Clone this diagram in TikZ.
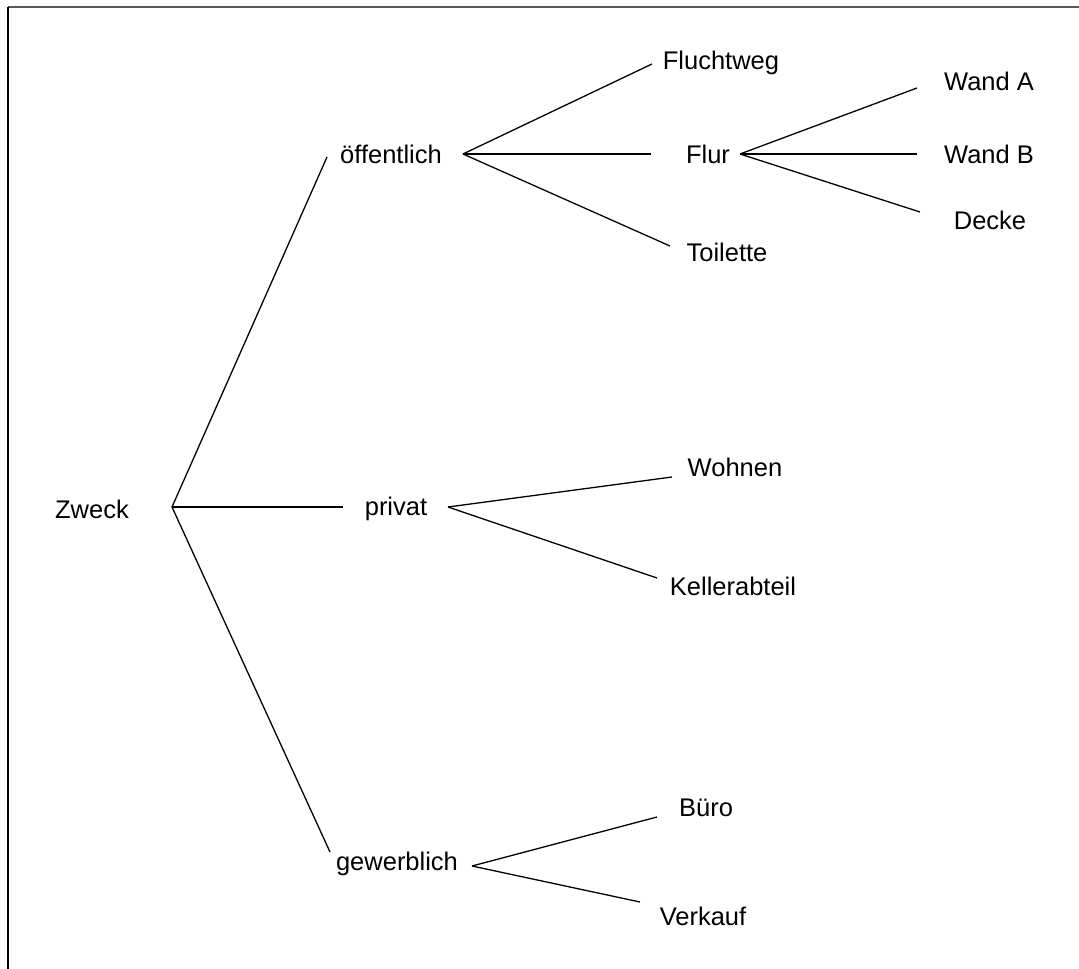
\documentclass[tikz,border=0pt]{standalone}
\usepackage{fontspec}
\setmainfont{Liberation Sans}
\begin{document}
\begin{tikzpicture}[x=1pt,y=-1pt,
  lbl/.style={inner sep=0pt,font=\fontsize{25.5}{30}\selectfont},
  edge/.style={line width=1.3pt,black}]
\useasboundingbox (0,0) rectangle (1079,969);
% frame (top and left only)
\draw[line width=2.2pt,gray!70!black] (8,7) -- (1079,7);
\draw[line width=2.2pt,black] (8,7) -- (8,969);

% labels
\node[lbl] (zweck) at (92,509) {Zweck};
\node[lbl] (oeff) at (391,154) {öffentlich};
\node[lbl] (privat) at (396,509) {privat};
\node[lbl] (gew) at (397,864) {gewerblich};
\node[lbl] (flucht) at (721,63) {Fluchtweg};
\node[lbl] (flur) at (708,154) {Flur};
\node[lbl] (toil) at (727,252) {Toilette};
\node[lbl] (wanda) at (989,81) {Wand A};
\node[lbl] (wandb) at (989,154) {Wand B};
\node[lbl] (decke) at (990,220) {Decke};
\node[lbl] (wohnen) at (735,467) {Wohnen};
\node[lbl] (keller) at (733,586) {Kellerabteil};
\node[lbl] (buero) at (706,808) {Büro};
\node[lbl] (verk) at (703,916) {Verkauf};

% branch points
\coordinate (zweck-o) at (172,507);
\coordinate (oeff-i) at (327,157);
\coordinate (oeff-o) at (463,154);
\coordinate (privat-i) at (343,507);
\coordinate (privat-o) at (448,507);
\coordinate (gew-i) at (330,852);
\coordinate (gew-o) at (472,866);
\coordinate (flucht-i) at (652,64);
\coordinate (flur-i) at (651,154);
\coordinate (flur-o) at (740,154);
\coordinate (toil-i) at (670,246);
\coordinate (wanda-i) at (917,88);
\coordinate (wandb-i) at (917,154);
\coordinate (decke-i) at (920,212);
\coordinate (wohnen-i) at (672,477);
\coordinate (keller-i) at (657,578);
\coordinate (buero-i) at (657,817);
\coordinate (verk-i) at (640,902);

% connectors
\draw[edge] (zweck-o) -- (oeff-i);
\draw[edge] (zweck-o) -- (privat-i);
\draw[edge] (zweck-o) -- (gew-i);
\draw[edge] (oeff-o) -- (flucht-i);
\draw[edge] (oeff-o) -- (flur-i);
\draw[edge] (oeff-o) -- (toil-i);
\draw[edge] (flur-o) -- (wanda-i);
\draw[edge] (flur-o) -- (wandb-i);
\draw[edge] (flur-o) -- (decke-i);
\draw[edge] (privat-o) -- (wohnen-i);
\draw[edge] (privat-o) -- (keller-i);
\draw[edge] (gew-o) -- (buero-i);
\draw[edge] (gew-o) -- (verk-i);
\end{tikzpicture}
\end{document}
